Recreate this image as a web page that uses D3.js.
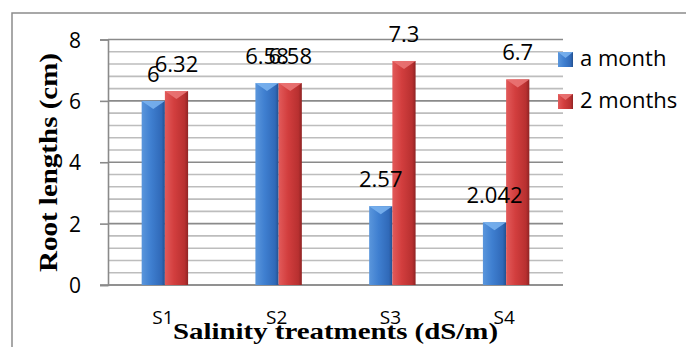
<!DOCTYPE html>
<html>
<head>
<meta charset="utf-8">
<script src="https://cdn.jsdelivr.net/npm/d3@7"></script>
<style>
  html, body { margin: 0; padding: 0; background: #fff; }
  svg { display: block; }
</style>
</head>
<body>
<svg id="chart" width="686" height="347"></svg>
<script>
// Root lengths by salinity treatment
const categories = ["S1", "S2", "S3", "S4"];
const seriesNames = ["a month", "2 months"];
const aMonth = [6, 6.58, 2.57, 2.042];
const twoMonths = [6.32, 6.58, 7.3, 6.7];
const yTicks = [0, 2, 4, 6, 8];

const series = [
  { name: seriesNames[0], values: aMonth, grad: "gBlue", bevel: "#79b1ee" },
  { name: seriesNames[1], values: twoMonths, grad: "gRed", bevel: "#ea7474" }
];

const svg = d3.select("#chart");
const sans = "'Open Sans', 'Liberation Sans', sans-serif";
const serif = "'Liberation Serif', 'DejaVu Serif', serif";

const plot = { left: 108, right: 563, top: 39.5, bottom: 285 };

const y = d3.scaleLinear().domain([0, 8]).range([plot.bottom, plot.top]);
const x0 = d3.scaleBand().domain(categories).range([plot.left, plot.right]).paddingInner(0).paddingOuter(0);
const x1 = d3.scaleBand().domain(seriesNames).range([0, x0.bandwidth()]).paddingInner(0).paddingOuter(1.45);

// gradients
const defs = svg.append("defs");
function hGrad(id, stops) {
  const g = defs.append("linearGradient").attr("id", id).attr("x1", "0").attr("x2", "1").attr("y1", "0").attr("y2", "0");
  stops.forEach(([o, c]) => g.append("stop").attr("offset", o).attr("stop-color", c));
}
hGrad("gBlue", [[0, "#5a96dc"], [0.4, "#3f7fd0"], [0.85, "#3069b8"], [1, "#24508e"]]);
hGrad("gRed", [[0, "#e25a5a"], [0.4, "#d23e3e"], [0.85, "#b83030"], [1, "#8f2424"]]);

// chart frame
svg.append("path")
  .attr("d", "M12,347 L12,13 L686,13")
  .attr("fill", "none").attr("stroke", "#8c8c8c").attr("stroke-width", 1.5);

// gridlines
const minor = d3.range(0, 8.001, 0.4).map(v => +v.toFixed(1));
svg.append("g").selectAll("line").data(minor).join("line")
  .attr("x1", plot.left).attr("x2", plot.right)
  .attr("y1", d => y(d)).attr("y2", d => y(d))
  .attr("stroke", d => (Math.abs(d % 2) < 1e-6 ? "#8a8a8a" : "#bdbdbd"))
  .attr("stroke-width", 1.6);

// y axis
const yAxis = d3.axisLeft(y).tickValues(yTicks).tickSize(8).tickPadding(19).tickFormat(d3.format("d"));
const ya = svg.append("g").attr("transform", `translate(${plot.left},0)`).call(yAxis);
ya.select(".domain").attr("stroke", "#8a8a8a").attr("stroke-width", 1.6);
ya.selectAll(".tick line").attr("stroke", "#8a8a8a").attr("stroke-width", 1.6);
ya.selectAll(".tick text").attr("font-family", sans).attr("font-size", 21).attr("fill", "#000").attr("dy", "0.36em");

// x axis baseline
svg.append("line")
  .attr("x1", plot.left - 8).attr("x2", plot.right)
  .attr("y1", y(0)).attr("y2", y(0))
  .attr("stroke", "#8a8a8a").attr("stroke-width", 1.6);

// bars
const rowsOf = s => categories.map((c, i) => ({ c, v: s.values[i], s }));
const bw = x1.bandwidth();
const bx = d => x0(d.c) + x1(d.s.name);
const groups = svg.append("g").selectAll("g").data(series).join("g");
groups.each(function (s) {
  const g = d3.select(this);
  const rows = rowsOf(s);
  g.selectAll("rect").data(rows).join("rect")
    .attr("x", bx).attr("width", bw)
    .attr("y", d => y(d.v)).attr("height", d => y(0) - y(d.v))
    .attr("fill", `url(#${s.grad})`);
  // bevelled top
  g.selectAll("polygon").data(rows).join("polygon")
    .attr("points", d => {
      const l = bx(d), r = l + bw, t = y(d.v);
      return `${l},${t} ${r},${t} ${l + bw / 2},${t + 8}`;
    })
    .attr("fill", s.bevel).attr("opacity", 0.9);
});

// value labels, above all bars
svg.append("g").selectAll("text").data(series.flatMap(rowsOf)).join("text")
  .attr("x", d => bx(d) + bw / 2)
  .attr("y", d => y(d.v) - 19)
  .attr("text-anchor", "middle")
  .attr("font-family", sans).attr("font-size", 22).attr("fill", "#000")
  .text(d => d.v);

// category labels
svg.append("g").selectAll("text").data(categories).join("text")
  .attr("x", d => x0(d) + x0.bandwidth() / 2 - 2)
  .attr("y", 324)
  .attr("text-anchor", "middle")
  .attr("font-family", sans).attr("font-size", 19).attr("fill", "#000")
  .text(d => d);

// axis titles
svg.append("text")
  .attr("x", (plot.left + plot.right) / 2).attr("y", 339)
  .attr("text-anchor", "middle")
  .attr("font-family", serif).attr("font-weight", "bold").attr("font-size", 24)
  .attr("textLength", 325).attr("lengthAdjust", "spacingAndGlyphs")
  .text("Salinity treatments (dS/m)");

svg.append("text")
  .attr("transform", "translate(57,162.5) rotate(-90)")
  .attr("text-anchor", "middle")
  .attr("font-family", serif).attr("font-weight", "bold").attr("font-size", 25)
  .attr("textLength", 219).attr("lengthAdjust", "spacingAndGlyphs")
  .text("Root lengths (cm)");

// legend
const legend = svg.append("g").selectAll("g").data(series).join("g")
  .attr("transform", (d, i) => `translate(558,${52 + i * 42})`);
legend.append("rect").attr("width", 15).attr("height", 15).attr("fill", d => `url(#${d.grad})`);
legend.append("polygon").attr("points", "0,0 15,0 7.5,6").attr("fill", d => d.bevel).attr("opacity", 0.9);
legend.append("text")
  .attr("x", 22).attr("y", 14)
  .attr("font-family", sans).attr("font-size", 22).attr("fill", "#000")
  .text(d => d.name);
</script>
</body>
</html>
